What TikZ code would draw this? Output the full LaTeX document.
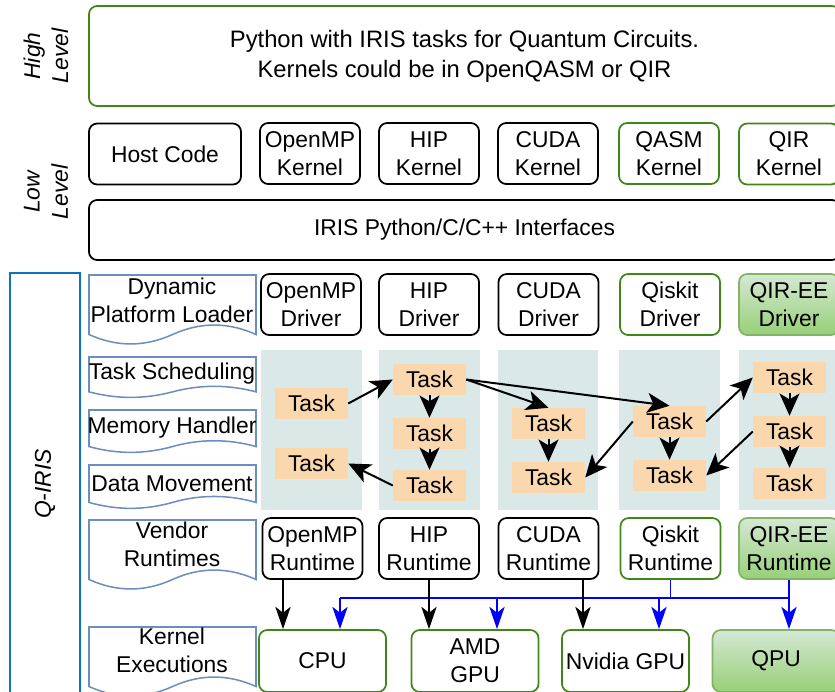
\documentclass[tikz,border=0pt]{standalone}
\usepackage{fontspec}
\setmainfont{Liberation Sans}
\usetikzlibrary{arrows.meta,calc}

\definecolor{qgreen}{RGB}{64,135,24}
\definecolor{qlight}{RGB}{130,179,102}
\definecolor{qtop}{RGB}{213,232,212}
\definecolor{qbot}{RGB}{151,208,119}
\definecolor{taskfill}{RGB}{250,215,172}
\definecolor{lanefill}{RGB}{219,232,232}
\definecolor{docblue}{RGB}{108,142,191}
\definecolor{qirisblue}{RGB}{16,115,186}

% page shape with a wavy lower edge: x1, y1, x2, y2
\newcommand\docpath[4]{%
  \pgfmathsetmacro\docw{#3-#1}%
  \pgfmathsetmacro\doch{#4-#2}%
  \pgfmathsetmacro\docm{#4-0.15*\doch}%
  \pgfmathsetmacro\docx{(#1+#3)/2}%
  \pgfmathsetmacro\docd{0.18*\doch}%
  \draw[doc] (#1,#2) -- (#3,#2) -- (#3,\docm)
    .. controls ({#3-\docw/6},{\docm-\docd}) and ({\docx+\docw/6},{\docm-\docd}) .. (\docx,\docm)
    .. controls ({\docx-\docw/6},{\docm+\docd}) and ({#1+\docw/6},{\docm+\docd}) .. (#1,\docm) -- cycle;}

\tikzset{
  flowtip/.tip={Stealth[length=19pt,width=17pt,inset=5pt]},
  downtip/.tip={Stealth[length=19pt,width=13pt,inset=5pt]}}

\begin{document}
\begin{tikzpicture}
  [x=0.03cm,y=-0.03cm,font=\fontsize{19.5}{24}\selectfont,
   box/.style={draw,rounded corners=7pt,line width=1.5pt,align=center,inner sep=0pt,
     minimum width=3cm,minimum height=1.83cm},
   gbox/.style={box,draw=qgreen},
   gfill/.style={box,draw=qlight,top color=qtop,bottom color=qbot},
   hwbox/.style={gbox,minimum width=3.81cm,minimum height=1.86cm},
   task/.style={fill=taskfill,inner sep=0pt,minimum width=2.19cm,minimum height=0.93cm},
   doc/.style={draw=docblue,line width=1.3pt},
   side/.style={rotate=90,font=\fontsize{19.5}{24}\selectfont\itshape,align=center},
   flow/.style={line width=1.7pt,-flowtip},
   down/.style={line width=1.6pt,-downtip},
   bus/.style={draw=blue,line width=1.5pt}]
  \useasboundingbox (0,0) rectangle (835,691);
  \clip (0,0) rectangle (835,691);

  % levels
  \node[side] (high) at (46,56) {High\\Level};
  \node[side] (low) at (46,192) {Low\\Level};
  \node[side] (qiris) at (45,484) {Q-IRIS};
  \draw[qirisblue,line width=1.4pt] (10,273) rectangle (80,700);

  \node[gbox,minimum width=22.53cm,minimum height=3cm,
    font=\fontsize{20.3}{25.5}\selectfont] (python) at (464.5,56)
    {Python with IRIS tasks for Quantum Circuits.\\Kernels could be in OpenQASM or QIR};
  \node[box,minimum width=4.56cm] (host) at (165,154) {Host Code};
  \node[box] (ompk) at (310,153.5) {OpenMP\\Kernel};
  \node[box] (hipk) at (429,153.5) {HIP\\Kernel};
  \node[box] (cudak) at (548,153.5) {CUDA\\Kernel};
  \node[gbox] (qasmk) at (669,153.5) {QASM\\Kernel};
  \node[gbox] (qirk) at (789,154) {QIR\\Kernel};
  \node[box,minimum width=22.53cm,minimum height=1.8cm] (iface) at (464.5,230)
    {IRIS Python/C/C++ Interfaces};

  % q-iris layers
  \docpath{89}{275}{256}{345}
  \node (dpl) at (172,300) [align=center] {Dynamic\\Platform Loader};
  \docpath{89}{357}{256}{398}
  \node (sched) at (172,374) {Task Scheduling};
  \docpath{89}{410}{256}{453}
  \node (mem) at (172,428) {Memory Handler};
  \docpath{89}{465}{256}{509}
  \node (move) at (172,484) {Data Movement};
  \docpath{89}{520}{256}{590}
  \node (vendor) at (172,544) [align=center] {Vendor\\Runtimes};
  \docpath{89}{627}{256}{697}
  \node (kexec) at (172,650) [align=center] {Kernel\\Executions};

  \node[box] (ompd) at (311,304.5) {OpenMP\\Driver};
  \node[box] (hipd) at (429,304.5) {HIP\\Driver};
  \node[box] (cudad) at (548.5,304.5) {CUDA\\Driver};
  \node[gbox] (qskd) at (670,304.5) {Qiskit\\Driver};
  \node[gfill] (qird) at (789,304.5) {QIR-EE\\Driver};

  \fill[lanefill] (261,350) rectangle (362,510);
  \fill[lanefill] (379,350) rectangle (480,510);
  \fill[lanefill] (498,350) rectangle (598,510);
  \fill[lanefill] (619,350) rectangle (720,510);
  \fill[lanefill] (739,350) rectangle (840,510);

  \node[task] (t1a) at (311.5,403.5) {Task};
  \node[task] (t1b) at (311.5,463.5) {Task};
  \node[task] (t2a) at (429.5,379.5) {Task};
  \node[task] (t2b) at (429.5,433.5) {Task};
  \node[task] (t2c) at (429.5,485.5) {Task};
  \node[task] (t3a) at (548.5,423.5) {Task};
  \node[task] (t3b) at (548.5,477.5) {Task};
  \node[task] (t4a) at (669.5,421.5) {Task};
  \node[task] (t4b) at (669.5,475.5) {Task};
  \node[task] (t5a) at (789.5,377.5) {Task};
  \node[task] (t5b) at (789.5,431.5) {Task};
  \node[task] (t5c) at (789.5,483.5) {Task};

  \draw[flow] (t1a.east) -- (t2a.west);
  \draw[flow] (t2a.south) -- (t2b.north);
  \draw[flow] (t2b.south) -- (t2c.north);
  \draw[flow] (t2c.west) -- (t1b.east);
  \draw[flow] (t2a.east) -- (t3a.north);
  \draw[flow] (t2a.east) -- (t4a.north);
  \draw[flow] (t3a.south) -- (t3b.north);
  \draw[flow] (t4a.west) -- (t3b.east);
  \draw[flow] (t4a.south) -- (t4b.north);
  \draw[flow] (t4a.east) -- (t5a.west);
  \draw[flow] (t5a.south) -- (t5b.north);
  \draw[flow] (t5b.south) -- (t5c.north);
  \draw[flow] (t5b.west) -- (t4b.east);

  \node[box] (ompr) at (312.5,548.5) {OpenMP\\Runtime};
  \node[box] (hipr) at (429,548.5) {HIP\\Runtime};
  \node[box] (cudar) at (548.5,548.5) {CUDA\\Runtime};
  \node[gbox] (qskr) at (670.5,548.5) {Qiskit\\Runtime};
  \node[gfill] (qirr) at (789,548.5) {QIR-EE\\Runtime};

  \node[hwbox] (cpu) at (322.5,661) {CPU};
  \node[hwbox] (amd) at (475,661) {AMD\\GPU};
  \node[hwbox] (nv) at (625.5,661) {Nvidia GPU};
  \node[hwbox,draw=qlight,top color=qtop,bottom color=qbot] (qpu) at (776,661) {QPU};

  % blue links
  \coordinate (busl) at (340,598);
  \coordinate (busa) at (497,598);
  \coordinate (busn) at (659,598);
  \coordinate (busr) at (qirr.south |- busl);
  \draw[bus] (qskr.south) -- (qskr.south |- busl);
  \draw[bus] (busl) -- (busr);
  \draw[bus,down] (qirr.south) -- (qirr.south |- qpu.north);
  \draw[bus,down] (busl) -- (busl |- cpu.north);
  \draw[bus,down] (busa) -- (busa |- amd.north);
  \draw[bus,down] (busn) -- (busn |- nv.north);

  % black links
  \coordinate (ompout) at (283,579);
  \coordinate (cudaout) at (583,579);
  \draw[down] (ompout) -- (ompout |- cpu.north);
  \draw[down] (hipr.south) -- (hipr.south |- amd.north);
  \draw[down] (cudaout) -- (cudaout |- nv.north);

\end{tikzpicture}
\end{document}
